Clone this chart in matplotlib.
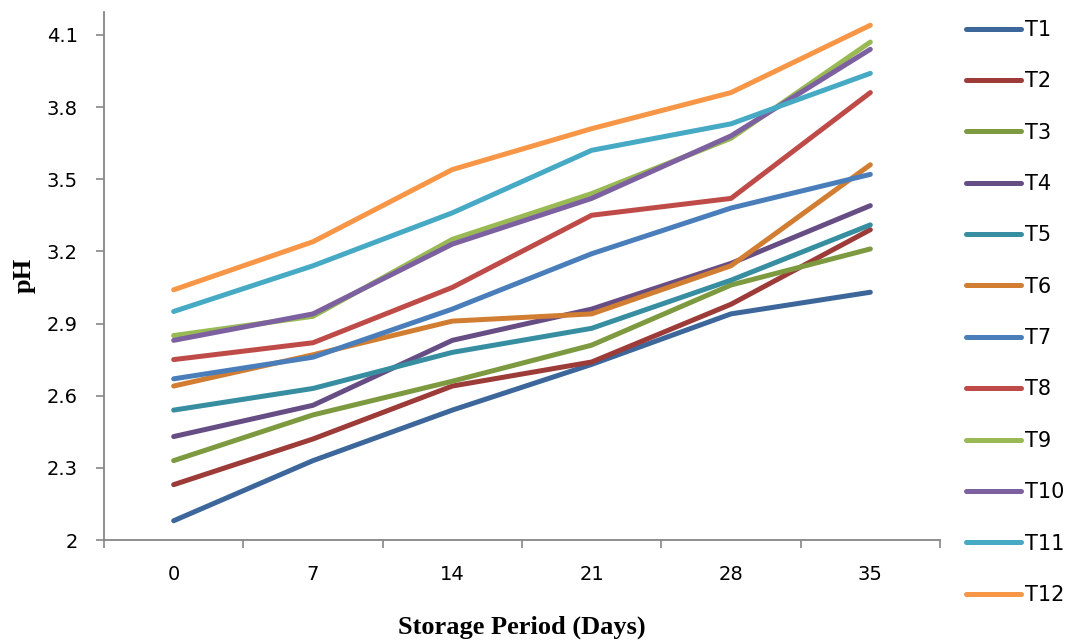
import matplotlib
matplotlib.use('Agg')
import matplotlib.pyplot as plt
from matplotlib.ticker import FixedLocator

days = ['0', '7', '14', '21', '28', '35']
T1 = [2.08, 2.33, 2.54, 2.73, 2.94, 3.03]
T2 = [2.23, 2.42, 2.64, 2.74, 2.98, 3.29]
T3 = [2.33, 2.52, 2.66, 2.81, 3.06, 3.21]
T4 = [2.43, 2.56, 2.83, 2.96, 3.15, 3.39]
T5 = [2.54, 2.63, 2.78, 2.88, 3.08, 3.31]
T6 = [2.64, 2.77, 2.91, 2.94, 3.14, 3.56]
T7 = [2.67, 2.76, 2.96, 3.19, 3.38, 3.52]
T8 = [2.75, 2.82, 3.05, 3.35, 3.42, 3.86]
T9 = [2.85, 2.93, 3.25, 3.44, 3.67, 4.07]
T10 = [2.83, 2.94, 3.23, 3.42, 3.68, 4.04]
T11 = [2.95, 3.14, 3.36, 3.62, 3.73, 3.94]
T12 = [3.04, 3.24, 3.54, 3.71, 3.86, 4.14]
names = ['T1', 'T2', 'T3', 'T4', 'T5', 'T6', 'T7', 'T8', 'T9', 'T10', 'T11', 'T12']
series = [T1, T2, T3, T4, T5, T6, T7, T8, T9, T10, T11, T12]
yticks = [2, 2.3, 2.6, 2.9, 3.2, 3.5, 3.8, 4.1]

COLORS = ['#3D679A', '#9C3B38', '#7D9A40', '#664E85', '#378EA1', '#D17E33',
          '#4A7EBB', '#BE4B48', '#98B954', '#7D60A0', '#46AAC5', '#F79646']
C_SPINE = '#868686'

fig = plt.figure(figsize=(10.72, 6.41), dpi=100)
ax = fig.add_axes([104 / 1072, 1 - 540 / 641, (940 - 104) / 1072, (540 - 12) / 641])
x = list(range(len(days)))
for nm, vals, c in zip(names, series, COLORS):
    ax.plot(x, vals, color=c, lw=3.6, solid_capstyle='round', solid_joinstyle='round', label=nm)

ax.set_xlim(-0.5, len(days) - 0.5)
ax.set_ylim(2, 4.195)
ax.set_xticks(x)
ax.set_xticklabels(days)
ax.xaxis.set_minor_locator(FixedLocator([i - 0.5 for i in range(len(days) + 1)]))
ax.tick_params(axis='x', which='major', length=0, pad=18, labelsize=14)
ax.tick_params(axis='x', which='minor', length=6, width=1.2, color=C_SPINE, direction='out')
ax.set_yticks(yticks)
ax.set_yticklabels([f'{v:g}' for v in yticks])
ax.tick_params(axis='y', length=6, width=1.2, color=C_SPINE, direction='out', pad=13, labelsize=14)
for s in ('top', 'right'):
    ax.spines[s].set_visible(False)
for s in ('left', 'bottom'):
    ax.spines[s].set_color(C_SPINE)
    ax.spines[s].set_linewidth(1.3)

fig.text(24 / 1072, 1 - 275 / 641, 'pH', rotation=90, ha='center', va='center',
         fontfamily='Liberation Serif', fontweight='bold', fontsize=19)
fig.text(522 / 1072, 1 - 627 / 641, 'Storage Period (Days)', ha='center', va='center',
         fontfamily='Liberation Serif', fontweight='bold', fontsize=19)

fig.legend(loc='upper left', bbox_to_anchor=(966 / 1072, 1 - 20 / 641), frameon=False,
           fontsize=15, labelspacing=1.505, handlelength=2.65, handletextpad=0.2,
           borderpad=0, borderaxespad=0)

fig.savefig('out.png', dpi=100)
